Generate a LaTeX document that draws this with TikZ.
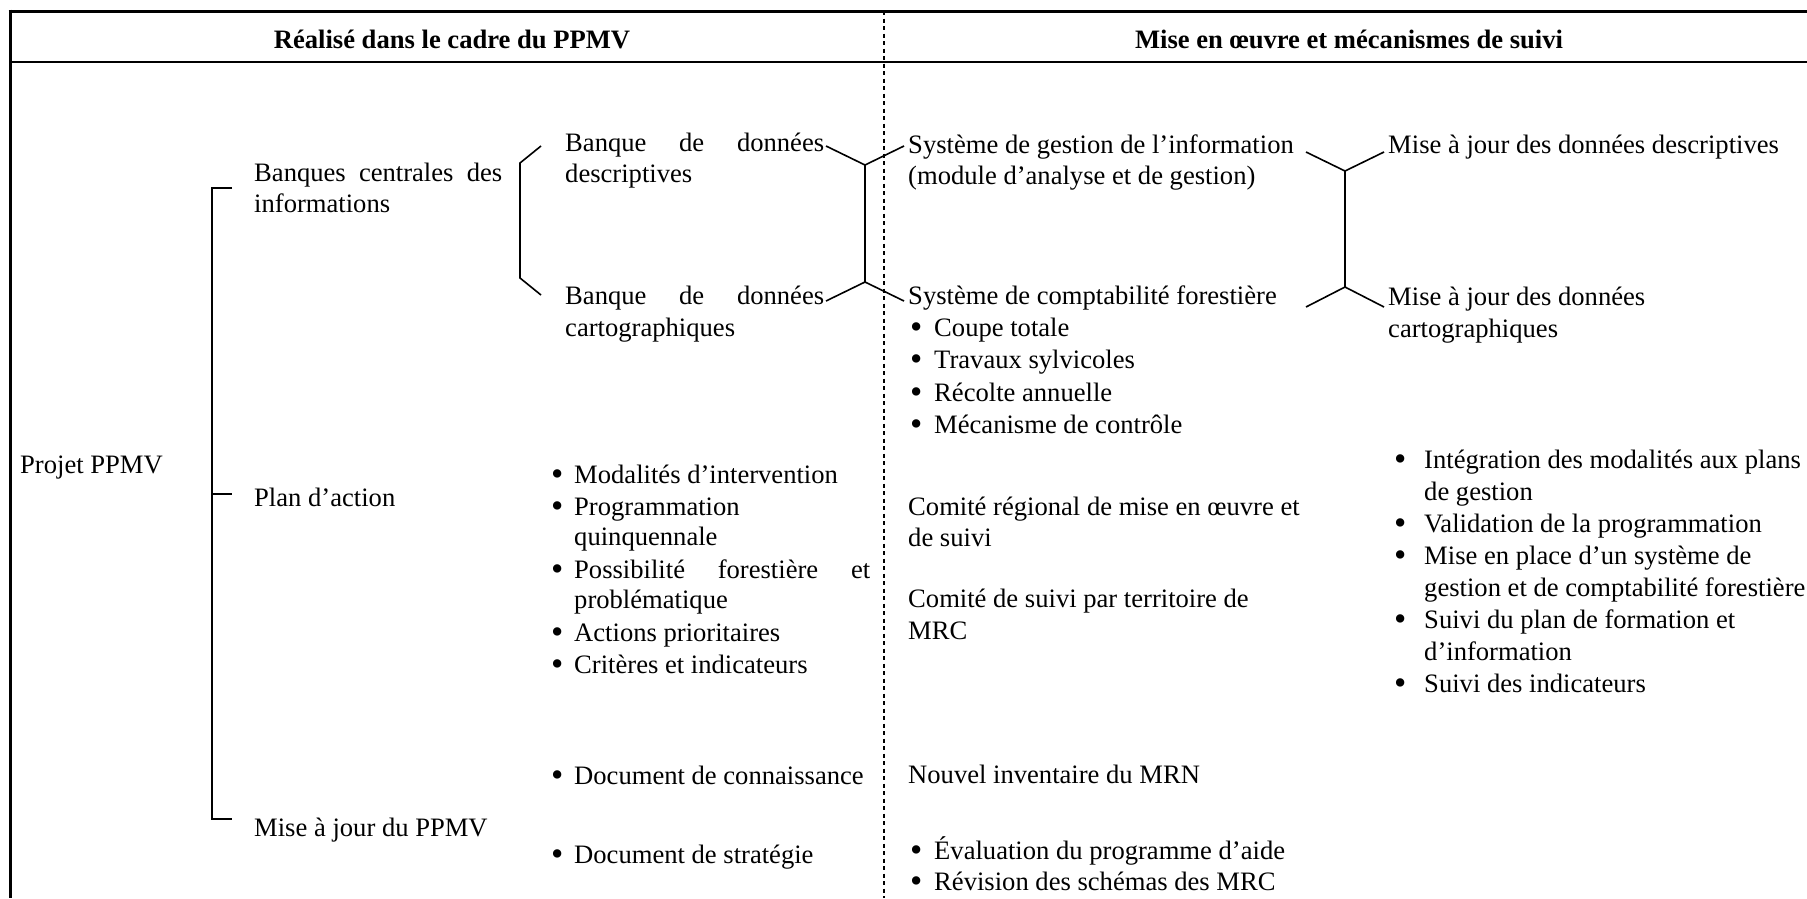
\documentclass[tikz,border=0pt]{standalone}
\usepackage{fontspec}
\setmainfont{Liberation Serif}
\newcommand\mybul[1]{\makebox[#1pt][l]{\smash{\raisebox{-2.5pt}{\fontsize{35}{31}\selectfont •}}}}
\begin{document}
\begin{tikzpicture}[x=1pt,y=-1pt,
  txt/.style={anchor=base west,inner sep=0pt,font=\fontsize{26.6}{31}\selectfont},
  hdr/.style={anchor=base,inner sep=0pt,font=\fontsize{26.6}{31}\selectfont\bfseries},
  frameline/.style={line width=3pt},
  sepline/.style={line width=2pt},
  divline/.style={line width=1.5pt,dash pattern=on 4pt off 3.5pt},
  brk/.style={line width=1.6pt,line join=miter}]
\useasboundingbox (0,0) rectangle (1807,898);
% frame
\draw[frameline] (8.5,11) -- (1807,11);
\draw[frameline] (10,9.5) -- (10,898);
\draw[sepline] (10,62) -- (1807,62);
\draw[divline] (884,11) -- (884,898);
% headers
\node[hdr] (h1) at (452,48) {Réalisé dans le cadre du PPMV};
\node[hdr] (h2) at (1349,48) {Mise en œuvre et mécanismes de suivi};
% left column
\node[txt] (projet) at (20,473) {Projet PPMV};
\draw[brk] (232,188) -- (212,188) -- (212,819) -- (232,819);
\draw[brk] (212,494) -- (232,494);
\node[txt] (bc1) at (254,181) {\hbox to 248pt{Banques\hfill centrales\hfill des}};
\node[txt] (bc2) at (254,212) {informations};
\node[txt] (plan) at (254,506) {Plan d’action};
\node[txt] (maj) at (254,836) {Mise à jour du PPMV};
% bracket to banks
\draw[brk] (541,146) -- (520,163) -- (520,278) -- (541,295);
\node[txt] (bd1) at (565,151) {\hbox to 259pt{Banque\hfill de\hfill données}};
\node[txt] (bd2) at (565,182) {descriptives};
\node[txt] (bc3) at (565,304) {\hbox to 259pt{Banque\hfill de\hfill données}};
\node[txt] (bc4) at (565,336) {cartographiques};
% left Y
\draw[brk] (826,146) -- (865,165) -- (904,146);
\draw[brk] (865,165) -- (865,282);
\draw[brk] (826,301) -- (865,282) -- (904,301);
% plan d'action bullets
\node[txt] (m1) at (551,483) {\mybul{23}Modalités d’intervention};
\node[txt] (m2) at (551,515) {\mybul{23}Programmation};
\node[txt] (m3) at (574,545) {quinquennale};
\node[txt] (m4) at (551,578) {\mybul{23}\hbox to 296pt{Possibilité\hfill forestière\hfill et}};
\node[txt] (m5) at (574,608) {problématique};
\node[txt] (m6) at (551,641) {\mybul{23}Actions prioritaires};
\node[txt] (m7) at (551,673) {\mybul{23}Critères et indicateurs};
\node[txt] (d1) at (551,784) {\mybul{23}Document de connaissance};
\node[txt] (d2) at (551,863) {\mybul{23}Document de stratégie};
% middle column (right half)
\node[txt] (s1) at (908,153) {Système de gestion de l’information};
\node[txt] (s2) at (908,184) {(module d’analyse et de gestion)};
\node[txt] (c0) at (908,304) {Système de comptabilité forestière};
\node[txt] (c1) at (910,336) {\mybul{24}Coupe totale};
\node[txt] (c2) at (910,368) {\mybul{24}Travaux sylvicoles};
\node[txt] (c3) at (910,401) {\mybul{24}Récolte annuelle};
\node[txt] (c4) at (910,433) {\mybul{24}Mécanisme de contrôle};
\node[txt] (cr1) at (908,515) {Comité régional de mise en œuvre et};
\node[txt] (cr2) at (908,546) {de suivi};
\node[txt] (cs1) at (908,607) {Comité de suivi par territoire de};
\node[txt] (cs2) at (908,639) {MRC};
\node[txt] (ni) at (908,783) {Nouvel inventaire du MRN};
\node[txt] (e1) at (910,859) {\mybul{24}Évaluation du programme d’aide};
\node[txt] (e2) at (910,890) {\mybul{24}Révision des schémas des MRC};
% right Y
\draw[brk] (1306,152) -- (1345,171) -- (1384,152);
\draw[brk] (1345,171) -- (1345,287);
\draw[brk] (1306,307) -- (1345,287) -- (1384,307);
\node[txt] (r1) at (1388,153) {Mise à jour des données descriptives};
\node[txt] (r2) at (1388,305) {Mise à jour des données};
\node[txt] (r3) at (1388,337) {cartographiques};
% right bullets
\node[txt] (i1) at (1394,468) {\mybul{30}Intégration des modalités aux plans};
\node[txt] (i2) at (1424,500) {de gestion};
\node[txt] (i3) at (1394,532) {\mybul{30}Validation de la programmation};
\node[txt] (i4) at (1394,564) {\mybul{30}Mise en place d’un système de};
\node[txt] (i5) at (1424,596) {gestion et de comptabilité forestière};
\node[txt] (i6) at (1394,628) {\mybul{30}Suivi du plan de formation et};
\node[txt] (i7) at (1424,660) {d’information};
\node[txt] (i8) at (1394,692) {\mybul{30}Suivi des indicateurs};
\end{tikzpicture}
\end{document}
